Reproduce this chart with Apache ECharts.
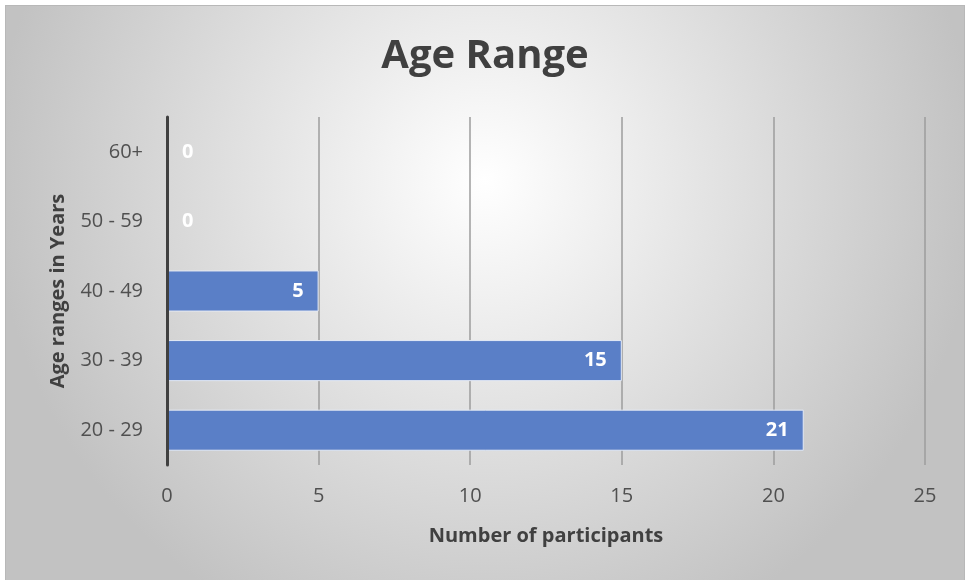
<!DOCTYPE html>
<html>
<head>
<meta charset="utf-8">
<script src="https://cdn.jsdelivr.net/npm/echarts@6/dist/echarts.min.js"></script>
<style>
  html, body { margin: 0; padding: 0; background: #fff; }
  #main {
    position: absolute; left: 5px; top: 5px;
    width: 958px; height: 580px;
    border: 1px solid #b8b8b8;
  }
</style>
</head>
<body>
<div id="main"></div>
<script>
// data
var ageRanges = ['20 - 29', '30 - 39', '40 - 49', '50 - 59', '60+'];
var participants = [21, 15, 5, 0, 0];
var xTicks = [0, 5, 10, 15, 20, 25];

var font = '"Open Sans", "Liberation Sans", sans-serif';

var chart = echarts.init(document.getElementById('main'));

// zero bars: put label just right of the axis
var barData = participants.map(function (v) {
    if (v === 0) {
        return { value: v, label: { position: 'right', distance: 15 }, itemStyle: { borderWidth: 0 } };
    }
    return v;
});

var option = {
    backgroundColor: {
        type: 'radial', x: 0.5, y: 0.3, r: 0.85,
        colorStops: [
            { offset: 0, color: '#ffffff' },
            { offset: 1, color: '#c2c2c2' }
        ]
    },
    title: {
        text: 'Age Range',
        left: 'center',
        top: 26,
        textStyle: { fontFamily: font, fontSize: 40, fontWeight: 'bold', color: '#404040' }
    },
    grid: { left: 161, right: 39, top: 111, bottom: 121 },
    xAxis: {
        type: 'value',
        min: xTicks[0],
        max: xTicks[xTicks.length - 1],
        interval: 5,
        name: 'Number of participants',
        nameLocation: 'middle',
        nameGap: 61,
        nameTextStyle: { fontFamily: font, fontSize: 20, fontWeight: 'bold', color: '#404040' },
        axisLine: { show: false },
        axisTick: { show: false },
        axisLabel: { fontFamily: font, fontSize: 20, color: '#505050', margin: 21 },
        splitLine: { lineStyle: { color: '#9d9d9d', width: 1.5 } }
    },
    yAxis: {
        type: 'category',
        data: ageRanges,
        z: 5,
        name: 'Age ranges in Years',
        nameLocation: 'middle',
        nameGap: 99,
        nameTextStyle: { fontFamily: font, fontSize: 20, fontWeight: 'bold', color: '#404040' },
        axisLine: { lineStyle: { color: '#404040', width: 3 } },
        axisTick: { show: false },
        axisLabel: { fontFamily: font, fontSize: 20, color: '#505050', margin: 24 }
    },
    series: [{
        type: 'bar',
        data: barData,
        barCategoryGap: '41%',
        itemStyle: { color: '#5a7fc7', borderColor: '#e4eaf5', borderWidth: 1 },
        label: {
            show: true,
            position: 'insideRight',
            distance: 15,
            fontFamily: font,
            fontSize: 20,
            fontWeight: 'bold',
            color: '#ffffff'
        }
    }]
};

chart.setOption(option);
</script>
</body>
</html>
